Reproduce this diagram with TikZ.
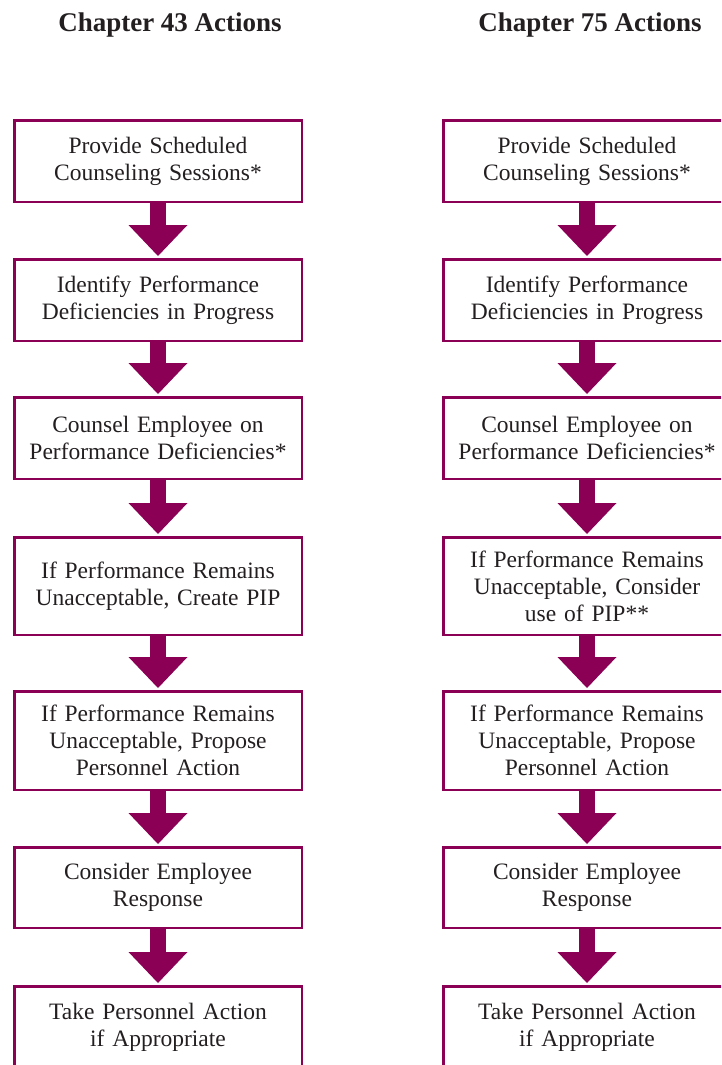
\documentclass[tikz,border=0pt]{standalone}
\usepackage{fontspec}
\setmainfont{Liberation Serif}
\usetikzlibrary{arrows.meta}
\definecolor{plum}{RGB}{139,0,84}
\definecolor{inkgray}{RGB}{35,31,32}

\begin{document}
\begin{tikzpicture}[x=1pt, y=-1pt,
    actionbox/.style={rectangle, draw=plum, line width=2.5pt, minimum width=287.5pt, inner sep=0pt, text width=285pt, align=center, text=inkgray, font=\fontsize{23.5}{27}\selectfont},
    chaptitle/.style={anchor=base, text=inkgray, font=\fontsize{27}{30}\selectfont\bfseries},
    flow/.style={draw=plum, line width=16pt, -{Triangle[width=59pt, length=31pt, line width=0pt]}, shorten >=2pt}]
            \useasboundingbox (0,0) rectangle (721,1065);
            \clip (0,0) rectangle (721,1065);

            % titles
            \node[chaptitle] (t43) at (170, 32) {Chapter 43 Actions};
            \node[chaptitle] (t75) at (590, 32) {Chapter 75 Actions};

            % chapter 43
            \node[actionbox, minimum height=81.5pt] (a1) at (158, 161) {Provide Scheduled\\Counseling Sessions*};
            \node[actionbox, minimum height=81.5pt] (a2) at (158, 300) {Identify Performance\\Deficiencies in Progress};
            \node[actionbox, minimum height=81.5pt] (a3) at (158, 438) {Counsel Employee on\\Performance Deficiencies*};
            \node[actionbox, minimum height=97.5pt] (a4) at (158, 586) {If Performance Remains\\Unacceptable, Create PIP};
            \node[actionbox, minimum height=98.5pt] (a5) at (158, 740.5) {If Performance Remains\\Unacceptable, Propose\\Personnel Action};
            \node[actionbox, minimum height=80.5pt] (a6) at (158, 887.5) {Consider Employee\\Response};
            \node[actionbox, minimum height=81.5pt] (a7) at (158, 1027) {Take Personnel Action\\if Appropriate};

            % chapter 75
            \node[actionbox, minimum height=81.5pt] (b1) at (587, 161) {Provide Scheduled\\Counseling Sessions*};
            \node[actionbox, minimum height=81.5pt] (b2) at (587, 300) {Identify Performance\\Deficiencies in Progress};
            \node[actionbox, minimum height=81.5pt] (b3) at (587, 438) {Counsel Employee on\\Performance Deficiencies*};
            \node[actionbox, minimum height=97.5pt] (b4) at (587, 586) {If Performance Remains\\Unacceptable, Consider\\use of PIP**};
            \node[actionbox, minimum height=98.5pt] (b5) at (587, 740.5) {If Performance Remains\\Unacceptable, Propose\\Personnel Action};
            \node[actionbox, minimum height=80.5pt] (b6) at (587, 887.5) {Consider Employee\\Response};
            \node[actionbox, minimum height=81.5pt] (b7) at (587, 1027) {Take Personnel Action\\if Appropriate};

            \draw[flow] (a1.south) -- (a2.north);
            \draw[flow] (a2.south) -- (a3.north);
            \draw[flow] (a3.south) -- (a4.north);
            \draw[flow] (a4.south) -- (a5.north);
            \draw[flow] (a5.south) -- (a6.north);
            \draw[flow] (a6.south) -- (a7.north);

            \draw[flow] (b1.south) -- (b2.north);
            \draw[flow] (b2.south) -- (b3.north);
            \draw[flow] (b3.south) -- (b4.north);
            \draw[flow] (b4.south) -- (b5.north);
            \draw[flow] (b5.south) -- (b6.north);
            \draw[flow] (b6.south) -- (b7.north);
        \end{tikzpicture}
\end{document}
